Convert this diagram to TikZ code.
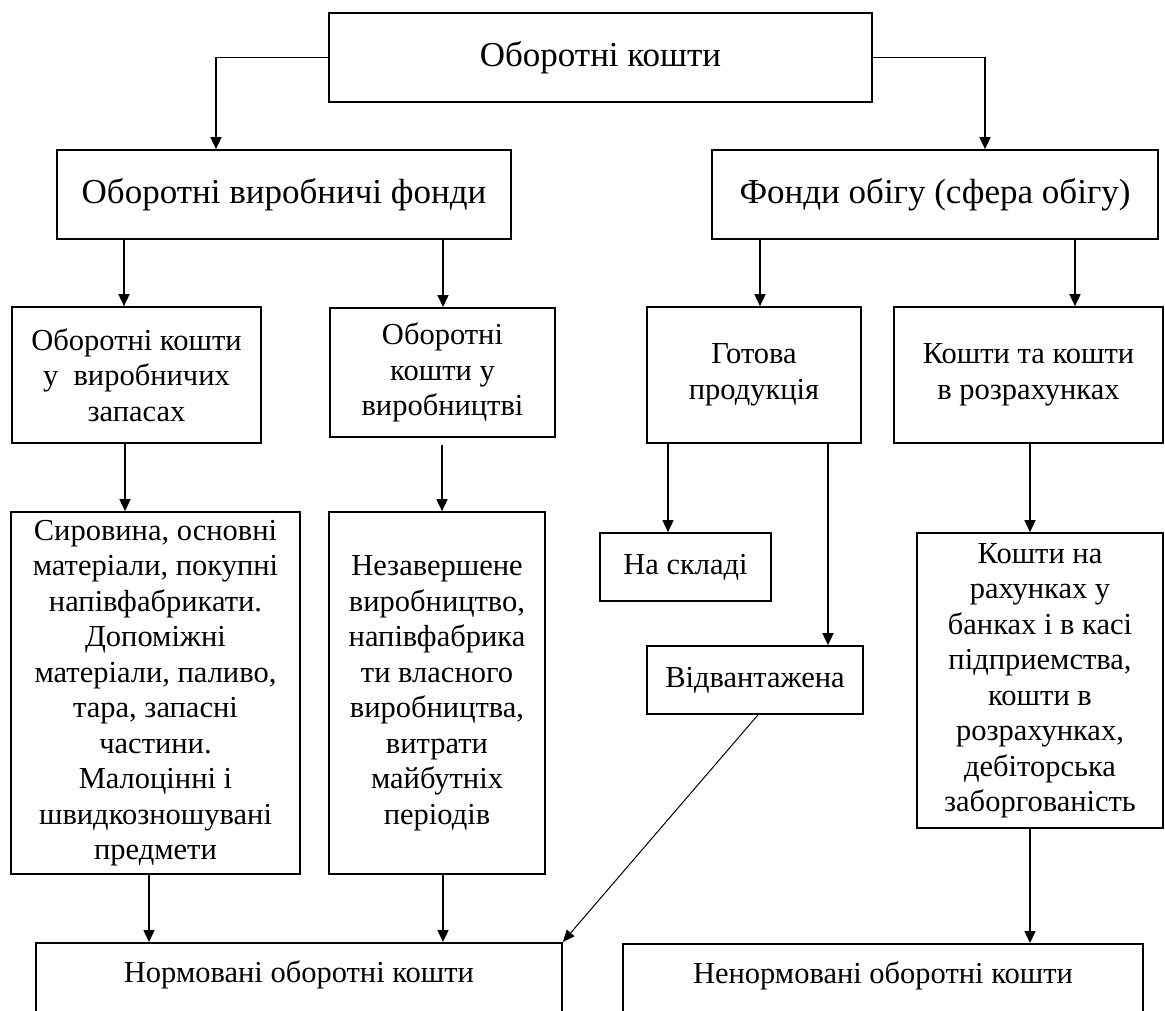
\documentclass[tikz,border=0pt]{standalone}
\usepackage{fontspec}
\setmainfont{Liberation Serif}
\usetikzlibrary{arrows.meta}
\begin{document}
\begin{tikzpicture}[x=1pt,y=-1pt,
  box/.style={draw, line width=1.7pt, align=center, inner sep=0pt,
    font=\fontsize{30.5}{35.5}\selectfont},
  bigbox/.style={box, font=\fontsize{35}{41}\selectfont},
  arr/.style={line width=1.6pt, -{Triangle[length=12pt,width=11pt]}},
  thinarr/.style={line width=1pt, -{Triangle[length=12pt,width=10pt]}}]
\useasboundingbox (0,0) rectangle (1165,1010);

% level 0
\node[bigbox, minimum width=543pt, minimum height=89pt] (top) at (600.5,57.5) {Оборотні кошти};
% level 1
\node[bigbox, minimum width=454pt, minimum height=89pt] (A) at (284,194.5) {Оборотні виробничі фонди};
\node[bigbox, minimum width=446pt, minimum height=89pt] (B) at (935,194.5) {Фонди обігу (сфера обігу)};
% level 2
\node[box, minimum width=249pt, minimum height=136pt] (b1) at (136.5,375) {Оборотні кошти\\у~ виробничих\\запасах};
\node[box, anchor=north, minimum width=225pt, minimum height=129pt] (b2) at (442.5,307) {Оборотні\\кошти у\\виробництві};
\node[box, minimum width=214pt, minimum height=136pt] (b3) at (754,375) {Готова\\продукція};
\node[box, minimum width=269pt, minimum height=136pt] (b4) at (1028.5,375) {Кошти та кошти\\в розрахунках};
% level 3
\node[box, minimum width=289pt, minimum height=362pt] (c1) at (155.5,693) {Сировина, основні\\матеріали, покупні\\напівфабрикати.\\Допоміжні\\матеріали, паливо,\\тара, запасні\\частини.\\Малоцінні і\\швидкозношувані\\предмети};
\node[box, minimum width=216pt, minimum height=362pt] (c2) at (437,693) {Незавершене\\виробництво,\\напівфабрика\\ти власного\\виробництва,\\витрати\\майбутніх\\періодів};
\node[box, minimum width=171pt, minimum height=68pt] (d1) at (685.5,567) {На складі};
\node[box, minimum width=216pt, minimum height=68pt] (d2) at (755,680) {Відвантажена};
\node[box, minimum width=246pt, minimum height=295pt] (c4) at (1040,680.5) {Кошти на\\рахунках у\\банках і в касі\\підприемства,\\кошти в\\розрахунках,\\дебіторська\\заборгованість};
% level 4
\node[box, anchor=north, minimum width=526pt, minimum height=92pt] (n1) at (299,942) {Нормовані оборотні кошти\\~};
\node[box, anchor=north, minimum width=520pt, minimum height=92pt] (n2) at (883,943) {Ненормовані оборотні кошти\\~};

% x positions of the vertical connectors
\coordinate (xa) at (216,0);
\coordinate (xb) at (985,0);
\coordinate (x1) at (124,0);
\coordinate (x2) at (443,0);
\coordinate (x3) at (760,0);
\coordinate (x4) at (1075,0);
\coordinate (x5) at (125,0);
\coordinate (x6) at (442,0);
\coordinate (x7) at (668,0);
\coordinate (x8) at (828,0);
\coordinate (x9) at (1030,0);
\coordinate (x10) at (149,0);
\coordinate (x11) at (758,0);

\draw[arr] (top.west) -| (A.north -| xa);
\draw[arr] (top.east) -| (B.north -| xb);
\draw[arr] (A.south -| x1) -- (b1.north -| x1);
\draw[arr] (A.south -| x2) -- (b2.north -| x2);
\draw[arr] (B.south -| x3) -- (b3.north -| x3);
\draw[arr] (B.south -| x4) -- (b4.north -| x4);
\draw[arr] (b1.south -| x5) -- (c1.north -| x5);
\draw[arr, shorten <=7pt] (b2.south -| x6) -- (c2.north -| x6);
\draw[arr] (b3.south -| x7) -- (d1.north -| x7);
\draw[arr] (b3.south -| x8) -- (d2.north -| x8);
\draw[arr] (b4.south -| x9) -- (c4.north -| x9);
\draw[arr] (c1.south -| x10) -- (n1.north -| x10);
\draw[arr] (c2.south -| x2) -- (n1.north -| x2);
\draw[thinarr] (d2.south -| x11) -- (n1.north east);
\draw[arr] (c4.south -| x9) -- (n2.north -| x9);
\end{tikzpicture}
\end{document}
